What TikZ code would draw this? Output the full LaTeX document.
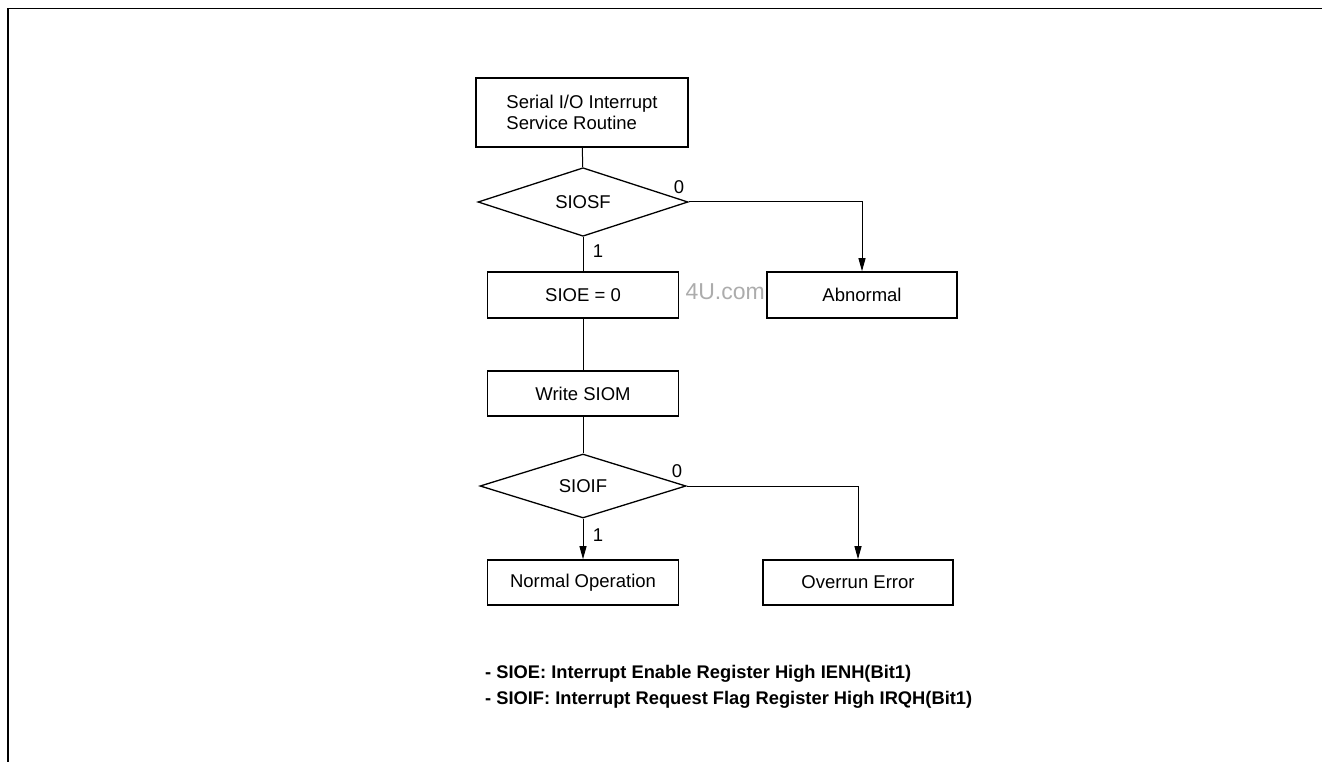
\documentclass[tikz,border=0pt]{standalone}
\usepackage{fontspec}
\setmainfont{Liberation Sans}
\usetikzlibrary{shapes.geometric,arrows.meta}
\definecolor{wmgray}{RGB}{172,172,172}
\tikzset{
  procbox/.style={draw, line width=1.6pt, fill=white, inner sep=0pt, font=\fontsize{18.5}{21}\selectfont, align=center},
  decision/.style={draw, diamond, line width=1.3pt, fill=white, inner sep=0pt, font=\fontsize{18.5}{21}\selectfont},
  conn/.style={line width=1pt},
  arr/.style={line width=1pt, -{Triangle[length=13pt,width=7pt]}},
  lbl/.style={font=\fontsize{18.5}{21}\selectfont, inner sep=0pt},
  note/.style={font=\bfseries\fontsize{18.3}{21}\selectfont, anchor=west, inner sep=0pt}
}
\begin{document}
\begin{tikzpicture}[x=1pt,y=-1pt]
\useasboundingbox (0,0) rectangle (1322,762);
% frame
\draw[line width=1.8pt] (8,762) -- (8,8.5) -- (1322,8.5);
% watermark
\node[text=wmgray, font=\fontsize{23}{26}\selectfont, anchor=east, inner sep=0pt] (wm) at (765,292) {4U.com};
% nodes
\node[procbox, minimum width=212pt, minimum height=69pt, align=left] (start) at (582,112.5) {Serial I/O Interrupt\\Service Routine};
\node[decision, minimum width=210pt, minimum height=64pt] (d1) at (583,202) {SIOSF};
\node[procbox, minimum width=191pt, minimum height=46pt] (sioe) at (583,295) {SIOE = 0};
\node[procbox, minimum width=190pt, minimum height=46pt] (abn) at (862,295) {Abnormal};
\node[procbox, minimum width=191pt, minimum height=45pt] (wr) at (583,393.5) {Write SIOM};
\node[decision, minimum width=206pt, minimum height=64pt] (d2) at (583,486) {SIOIF};
\node[procbox, minimum width=191pt, minimum height=45pt] (norm) at (583,582.5) {Normal Operation};
\node[procbox, minimum width=190pt, minimum height=45pt] (ovr) at (858,582.5) {Overrun Error};
% connectors
\draw[conn] (start) -- (d1);
\draw[conn] (d1) -- (sioe);
\draw[arr] (d1.east) -| (abn.north);
\draw[conn] (sioe) -- (wr);
\draw[conn] (wr) -- (d2);
\draw[arr] (d2.south) -- (norm.north);
\draw[arr] (d2.east) -| (ovr.north);
% labels
\node[lbl] (l0a) at (679,187) {0};
\node[lbl] (l1a) at (598,251) {1};
\node[lbl] (l0b) at (677,471) {0};
\node[lbl] (l1b) at (598,535) {1};
% notes
\node[note] (n1) at (485,674) {- SIOE: Interrupt Enable Register High IENH(Bit1)};
\node[note] (n2) at (485,700) {- SIOIF: Interrupt Request Flag Register High IRQH(Bit1)};
\end{tikzpicture}
\end{document}
